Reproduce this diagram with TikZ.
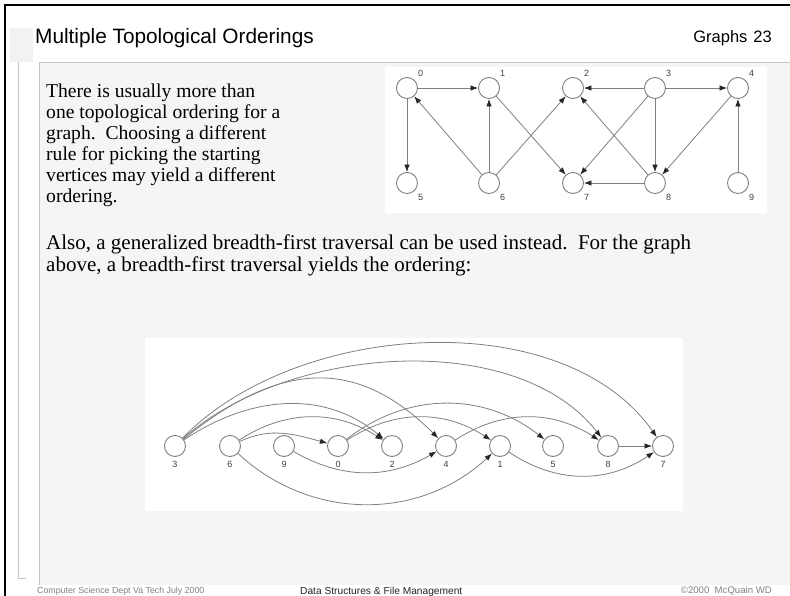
\documentclass[tikz,border=0pt]{standalone}
\usepackage{fontspec}
\setmainfont{Liberation Serif}
\newfontfamily\arialfont{Liberation Sans}
\usetikzlibrary{arrows.meta}
\definecolor{panelgray}{HTML}{F5F5F5}
\definecolor{edgegray}{HTML}{808080}
\definecolor{rulegray}{HTML}{C4C4C4}
\tikzset{vertex/.style={circle,draw=edgegray,fill=white,line width=0.9pt,minimum size=21pt,inner sep=0pt},
         vlabel/.style={font=\arialfont\fontsize{9}{9}\selectfont,text=black!75,inner sep=1pt,label distance=3pt},
         arc/.style={draw=edgegray,line width=0.8pt,-{Latex[length=7.5pt,width=5.5pt,color=black!85]}},
         bodytext/.style={font=\fontsize{19.6}{21}\selectfont,align=left,inner sep=0pt,anchor=north west},
         footer/.style={font=\arialfont\fontsize{8.8}{9}\selectfont,text=black!50,anchor=base west,inner sep=0pt},
        }

\begin{document}
\begin{tikzpicture}[x=1pt,y=-1pt]
    \useasboundingbox (0,0) rectangle (790,596);
    \fill[white] (0,0) rectangle (790,596);
    \fill[panelgray] (39,62) rectangle (790,585);
    \draw[rulegray] (39,585) -- (39,62) -- (790,62);
    \fill[black!5] (10,28) rectangle (33,62);
    \draw[rulegray] (18,62) -- (18,578) -- (26,578);
    \draw[black,line width=2pt] (5,596) -- (5,5) -- (790,5);

    \node[font=\arialfont\fontsize{20.8}{22}\selectfont,anchor=base west,inner sep=0pt](title)at(35,44){Multiple Topological Orderings};
    \node[font=\arialfont\fontsize{16.5}{18}\selectfont,anchor=base east,inner sep=0pt](page)at(772,43){Graphs\hspace{6pt}23};

    \node[bodytext](para1)at(46,84){There is usually more than\\one topological ordering for a\\graph.\ \ Choosing a different\\rule for picking the starting\\vertices may yield a different\\ordering.};
    \node[bodytext,font=\fontsize{21}{22}\selectfont](para2)at(46,235){Also, a generalized breadth-first traversal can be used instead.\ \ For the graph\\above, a breadth-first traversal yields the ordering:};

    \fill[white] (385,67) rectangle (767,213);
    \node[vertex, label={[vlabel]45:0}](t0)at(407,88){};
    \node[vertex, label={[vlabel]45:1}](t1)at(489,88){};
    \node[vertex, label={[vlabel]45:2}](t2)at(573,88){};
    \node[vertex, label={[vlabel]45:3}](t3)at(655,88){};
    \node[vertex, label={[vlabel]45:4}](t4)at(738,88){};
    \node[vertex, label={[vlabel]-45:5}](t5)at(407,183){};
    \node[vertex, label={[vlabel]-45:6}](t6)at(489,183){};
    \node[vertex, label={[vlabel]-45:7}](t7)at(573,183){};
    \node[vertex, label={[vlabel]-45:8}](t8)at(655,183){};
    \node[vertex, label={[vlabel]-45:9}](t9)at(738,183){};
    \draw[arc](t0)--(t1);
    \draw[arc](t0)--(t5);
    \draw[arc](t6)--(t0);
    \draw[arc](t6)--(t1);
    \draw[arc](t6)--(t2);
    \draw[arc](t1)--(t7);
    \draw[arc](t3)--(t2);
    \draw[arc](t3)--(t4);
    \draw[arc](t3)--(t8);
    \draw[arc](t3)--(t7);
    \draw[arc](t8)--(t2);
    \draw[arc](t8)--(t7);
    \draw[arc](t4)--(t8);
    \draw[arc](t9)--(t4);

    \fill[white] (145,338) rectangle (683,511);
    \node[vertex, label={[vlabel]below:3}](b3)at(175,446){};
    \node[vertex, label={[vlabel]below:6}](b6)at(230,446){};
    \node[vertex, label={[vlabel]below:9}](b9)at(284,446){};
    \node[vertex, label={[vlabel]below:0}](b0)at(338,446){};
    \node[vertex, label={[vlabel]below:2}](b2)at(392,446){};
    \node[vertex, label={[vlabel]below:4}](b4)at(446,446){};
    \node[vertex, label={[vlabel]below:1}](b1)at(500,446){};
    \node[vertex, label={[vlabel]below:5}](b5)at(553,446){};
    \node[vertex, label={[vlabel]below:8}](b8)at(608,446){};
    \node[vertex, label={[vlabel]below:7}](b7)at(663,446){};
    \draw[arc](b3) to[out=46,in=125,looseness=0.88] (b7);
    \draw[arc](b3) to[out=42,in=128,looseness=0.85] (b8);
    \draw[arc](b3) to[out=39,in=135,looseness=1.2] (b4);
    \draw[arc](b3) to[out=34,in=140] (b2);
    \draw[arc](b6) to[bend left=33] (b2);
    \draw[arc](b6) to[out=25,in=165] (b0);
    \draw[arc](b6) to[bend right=43] (b1);
    \draw[arc](b9) to[bend right=30] (b4);
    \draw[arc](b0) to[bend left=33] (b1);
    \draw[arc](b0) to[bend left=38] (b5);
    \draw[arc](b4) to[bend left=33] (b8);
    \draw[arc](b1) to[bend right=34] (b7);
    \draw[arc](b8)--(b7);

    \node[footer](dept)at(37,593){Computer Science Dept Va Tech July 2000};
    \node[footer,text=black!85,font=\arialfont\fontsize{10.2}{11}\selectfont](course)at(300,594){Data Structures \& File Management};
    \node[footer,anchor=base east,font=\arialfont\fontsize{9.6}{10}\selectfont](copy)at(772,593){©2000\ \ McQuain WD};
\end{tikzpicture}
\end{document}
